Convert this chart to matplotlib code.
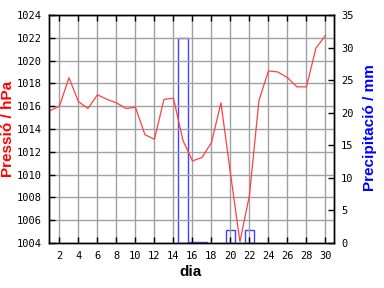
import matplotlib
matplotlib.use('Agg')
import matplotlib.pyplot as plt

# daily data
days = list(range(1, 31))
pressure = [1015.6, 1016.0, 1018.5, 1016.4, 1015.8, 1017.0, 1016.6, 1016.3, 1015.8, 1015.9,
            1013.5, 1013.1, 1016.6, 1016.7, 1013.0, 1011.2, 1011.5, 1012.8, 1016.3, 1010.1,
            1004.1, 1008.2, 1016.5, 1019.1, 1019.0, 1018.5, 1017.7, 1017.7, 1021.1, 1022.2]
rain_days = [15, 16, 17, 20, 22]
rain = [31.4, 0.2, 0.2, 2.0, 2.0]

xticks = list(range(2, 31, 2))
pticks = list(range(1004, 1025, 2))
rticks = list(range(0, 36, 5))

fig = plt.figure(figsize=(3.84, 2.88), dpi=100)
fig.subplots_adjust(left=49/384, right=334/384, top=1-15/288, bottom=1-243/288)
ax = fig.add_subplot(111)
ax2 = ax.twinx()

# rain as outlined bars (behind), pressure line on top
ax2.bar(rain_days, rain, width=1.0, fill=False, edgecolor='#4040ff', linewidth=1.0)
ax2.set_ylim(0, 35)
ax2.set_yticks(rticks)

ax.plot(days, pressure, color='#ff4040', linewidth=0.9)
ax.set_xlim(0.9, 30.9)
ax.set_ylim(1004, 1024)
ax.set_xticks(xticks)
ax.set_yticks(pticks)
ax.grid(True, color='#a0a0a0', linewidth=1.0)
ax.set_axisbelow(True)
ax.set_zorder(ax2.get_zorder() + 1)
ax.patch.set_visible(False)

mono = 'DejaVu Sans Mono'
ax.tick_params(axis='x', direction='in', top=True, length=4, width=1, pad=6,
               labelsize=7.5, labelfontfamily=mono)
ax.tick_params(axis='y', direction='in', left=True, right=False, length=4, width=1, pad=5,
               labelsize=7.5, labelfontfamily=mono)
ax2.tick_params(axis='y', direction='in', length=4, width=1, pad=5,
                labelsize=7.5, labelfontfamily=mono)
for a in (ax, ax2):
    for s in a.spines.values():
        s.set_linewidth(1.0)

fig.text(191/384, 1-272/288, 'dia', ha='center', va='center', fontsize=11,
         fontweight='bold', family='Liberation Sans')
fig.text(8/384, 1-129/288, 'Pressió / hPa', ha='center', va='center', rotation=90,
         fontsize=11, fontweight='bold', color='#ff0000', family='Liberation Sans')
fig.text(370/384, 1-128/288, 'Precipitació / mm', ha='center', va='center', rotation=90,
         fontsize=11, fontweight='bold', color='#0000ff', family='Liberation Sans')

plt.savefig('out.png', dpi=100)
